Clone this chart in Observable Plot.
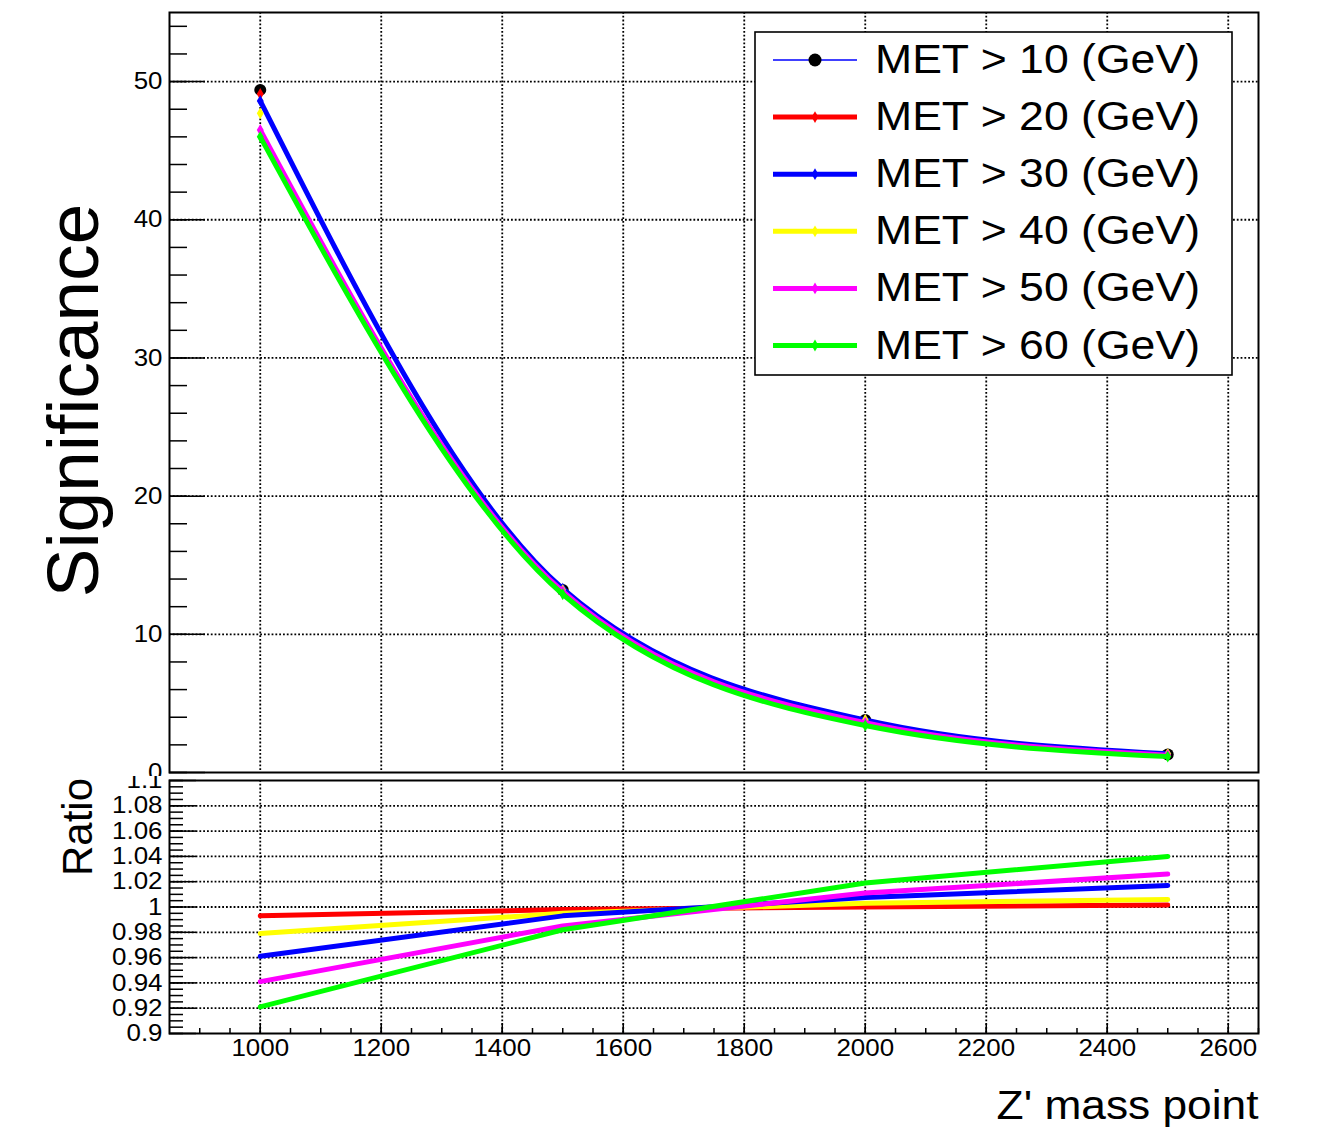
<!DOCTYPE html>
<html>
<head>
<meta charset="utf-8">
<script src="https://cdn.jsdelivr.net/npm/d3@7"></script>
<script src="https://cdn.jsdelivr.net/npm/@observablehq/plot@0.6"></script>
<style>
  html, body { margin: 0; padding: 0; background: #fff; }
  #wrap { position: relative; width: 1322px; height: 1142px; overflow: hidden; background: #fff;
          font-family: "Liberation Sans", Arial, Helvetica, sans-serif; }
  #topPanel { position: absolute; left: 0; top: 0; }
  #bottomPanel { position: absolute; left: 0; top: 776px; }
  #legend { position: absolute; left: 0; top: 0; pointer-events: none; }
</style>
</head>
<body>
<div id="wrap">
  <div id="topPanel"></div>
  <div id="bottomPanel"></div>
  <svg id="legend" width="1322" height="400"></svg>
</div>
<script>
// ---------------- data ----------------
const massPoints = [1000, 1500, 2000, 2500];
const seriesLabels = ["MET > 10 (GeV)", "MET > 20 (GeV)", "MET > 30 (GeV)", "MET > 40 (GeV)", "MET > 50 (GeV)", "MET > 60 (GeV)"];
const lineColors   = ["#0000ff", "#ff0000", "#0000ff", "#ffff00", "#ff00ff", "#00ff00"];
const markerColors = ["#000000", "#ff0000", "#0000ff", "#ffff00", "#ff00ff", "#00ff00"];

// significance vs Z' mass
const sigMET10 = [49.4, 13.2, 3.8, 1.30];
const sigMET20 = [49.1, 13.2, 3.8, 1.30];
const sigMET30 = [48.6, 13.3, 3.8, 1.35];
const sigMET40 = [47.7, 13.2, 3.8, 1.35];
const sigMET50 = [46.5, 13.1, 3.6, 1.25];
const sigMET60 = [46.0, 12.9, 3.4, 1.15];

// ratio panel
const ratioMET20 = [0.993, 0.998, 1.000, 1.0015];
const ratioMET40 = [0.979, 0.995, 1.003, 1.006];
const ratioMET30 = [0.961, 0.993, 1.0075, 1.017];
const ratioMET50 = [0.941, 0.985, 1.011, 1.026];
const ratioMET60 = [0.921, 0.982, 1.019, 1.040];

// axes
const massTicks = [1000, 1200, 1400, 1600, 1800, 2000, 2200, 2400, 2600];
const massMinorTicks = d3.range(900, 2651, 50);
const sigTicks = [0, 10, 20, 30, 40, 50];
const sigMinorTicks = d3.range(0, 55.01, 2);
const ratioTicks = [0.9, 0.92, 0.94, 0.96, 0.98, 1.0, 1.02, 1.04, 1.06, 1.08, 1.1];
const ratioMinorTicks = d3.range(0, 41).map(i => 0.9 + i * 0.005);

// which series have a drawn curve in the upper pad (the others show only markers)
const topCurveSeries = [2, 4, 5];
const ratioSeries = [1, 3, 2, 4, 5];

// --------------- tidy tables ---------------
const sigSeries = [sigMET10, sigMET20, sigMET30, sigMET40, sigMET50, sigMET60];
const ratioBySeries = {1: ratioMET20, 2: ratioMET30, 3: ratioMET40, 4: ratioMET50, 5: ratioMET60};
const sigRows = [];
sigSeries.forEach((vals, i) => vals.forEach((v, j) => sigRows.push({idx: i, series: seriesLabels[i], mass: massPoints[j], value: v})));
const ratioRows = [];
ratioSeries.forEach(i => ratioBySeries[i].forEach((v, j) => ratioRows.push({idx: i, series: seriesLabels[i], mass: massPoints[j], value: v})));

const W = 1322, L = 169, R = 64;
const gridStyle = {stroke: "#000", strokeOpacity: 1, strokeWidth: 1.8, strokeDasharray: "1.8,2.0"};
const fontFam = "'Liberation Sans', Arial, Helvetica, sans-serif";

// ---------------- top pad ----------------
const topMarks = [
  Plot.gridX(massTicks, gridStyle),
  Plot.gridY(sigTicks.filter(d => d > 0), gridStyle),
  Plot.axisY(sigMinorTicks, {tickSize: -18, strokeWidth: 1.5, tickFormat: () => "", label: null}),
  Plot.axisY(sigTicks, {tickSize: -36, strokeWidth: 1.5, tickFormat: () => "", label: null}),
  Plot.axisY(sigTicks, {tickSize: 0, tickPadding: 7, tickFormat: d => String(d), label: null})
];
sigSeries.forEach((vals, i) => {
  if (topCurveSeries.includes(i)) {
    topMarks.push(Plot.line(sigRows.filter(d => d.idx === i), {x: "mass", y: "value", stroke: lineColors[i], strokeWidth: 5, curve: "monotone-x"}));
  }
  topMarks.push(Plot.dot(sigRows.filter(d => d.idx === i), {
    x: "mass", y: "value", fill: markerColors[i], stroke: "none",
    symbol: i === 0 ? "circle" : "diamond", r: i === 0 ? 6 : 3.6
  }));
});
topMarks.push(Plot.frame({stroke: "#000", strokeWidth: 2}));
topMarks.push(Plot.text(["Significance"], {frameAnchor: "left", textAnchor: "middle", dx: -95, dy: 8, rotate: -90, fontSize: 73}));

const topPlot = Plot.plot({
  width: W, height: 776,
  marginLeft: L, marginRight: R, marginTop: 12, marginBottom: 4,
  x: {domain: [850, 2650], axis: null},
  y: {domain: [0, 55], axis: null},
  style: {fontFamily: fontFam, fontSize: "24px", background: "#fff", color: "#000"},
  marks: topMarks
});
document.getElementById("topPanel").appendChild(topPlot);

// ---------------- ratio pad ----------------
const botMarks = [
  Plot.gridX(massTicks, gridStyle),
  Plot.gridY(ratioTicks.filter(d => d > 0.9001 && d < 1.0999), gridStyle),
  Plot.axisY(ratioMinorTicks, {tickSize: -14, strokeWidth: 1.5, tickFormat: () => "", label: null}),
  Plot.axisY(ratioTicks, {tickSize: -27, strokeWidth: 1.5, tickFormat: () => "", label: null}),
  Plot.axisY(ratioTicks, {tickSize: 0, tickPadding: 7, tickFormat: d => String(+d.toFixed(2)), label: null}),
  Plot.axisX(massMinorTicks, {tickSize: -5, strokeWidth: 1.5, tickFormat: () => "", label: null}),
  Plot.axisX(massTicks, {tickSize: -10, strokeWidth: 1.5, tickFormat: () => "", label: null}),
  Plot.axisX(massTicks, {tickSize: 0, tickPadding: 5, tickFormat: d => String(d), label: null})
];
ratioSeries.forEach(i => {
  botMarks.push(Plot.line(ratioRows.filter(d => d.idx === i), {x: "mass", y: "value", stroke: lineColors[i], strokeWidth: 5}));
});
botMarks.push(Plot.frame({stroke: "#000", strokeWidth: 2}));
botMarks.push(Plot.text(["Ratio"], {frameAnchor: "left", textAnchor: "middle", dx: -91, dy: -80, rotate: -90, fontSize: 42}));
botMarks.push(Plot.text(["Z' mass point"], {frameAnchor: "bottom-right", dx: 0, dy: 85, textAnchor: "end", fontSize: 41}));

const botPlot = Plot.plot({
  width: W, height: 366,
  marginLeft: L, marginRight: R, marginTop: 4, marginBottom: 109,
  x: {domain: [850, 2650], axis: null},
  y: {domain: [0.9, 1.1], axis: null},
  style: {fontFamily: fontFam, fontSize: "24px", background: "#fff", color: "#000"},
  marks: botMarks
});
document.getElementById("bottomPanel").appendChild(botPlot);

// horizontal stretch of glyphs (the reference text is slightly wide)
function stretchTexts(svg, k) {
  svg.querySelectorAll("text").forEach(t => {
    const tr = t.getAttribute("transform") || "";
    if (tr.includes("rotate")) return;
    const len = t.getComputedTextLength();
    if (len > 0) {
      t.setAttribute("textLength", (len * k).toFixed(1));
      t.setAttribute("lengthAdjust", "spacingAndGlyphs");
    }
  });
}
stretchTexts(topPlot, 1.08);
stretchTexts(botPlot, 1.08);

// ---------------- legend (TLegend-like box) ----------------
const leg = d3.select("#legend");
const box = {x: 755, y: 32, w: 477, h: 343, row0: 60, step: 57.1};
leg.append("rect").attr("x", box.x).attr("y", box.y).attr("width", box.w).attr("height", box.h)
  .attr("fill", "#fff").attr("stroke", "#000").attr("stroke-width", 1.6);
seriesLabels.forEach((lab, i) => {
  const cy = box.row0 + i * box.step;
  leg.append("line").attr("x1", 773).attr("x2", 857).attr("y1", cy).attr("y2", cy)
    .attr("stroke", lineColors[i]).attr("stroke-width", i === 0 ? 1.5 : 5);
  if (i === 0) {
    leg.append("circle").attr("cx", 815).attr("cy", cy).attr("r", 6.5).attr("fill", "#000");
  } else {
    leg.append("path").attr("d", d3.symbol(d3.symbolDiamond, 40)()).attr("transform", `translate(815,${cy})`)
      .attr("fill", markerColors[i]);
  }
  const t = leg.append("text").attr("x", 875).attr("y", cy + 13).attr("font-size", 40)
    .attr("font-family", fontFam).attr("fill", "#000").text(lab);
  t.attr("textLength", 325).attr("lengthAdjust", "spacingAndGlyphs");
});
</script>
</body>
</html>
